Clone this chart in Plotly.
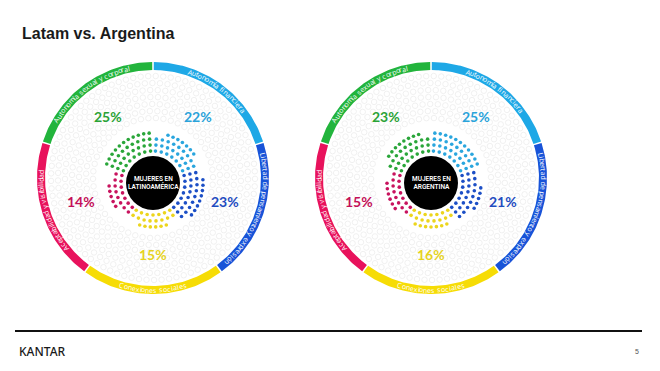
import math
import numpy as np
import plotly.graph_objects as go

# ---------------- data ----------------
categories = ["Autonomía financiera",
              "Libertad de pensamiento y expresión",
              "Conexiones sociales",
              "Aceptabilidad y visibilidad",
              "Autonomía sexual y corporal"]
latam_values = [22, 23, 15, 14, 25]
argentina_values = [25, 21, 16, 15, 23]
center_labels = ["MUJERES EN<br>LATINOAMÉRICA", "MUJERES EN<br>ARGENTINA"]
title_text = "Latam vs. Argentina"
footer_brand = "KANTAR"
page_number = "5"

# ---------------- style ----------------
ring_colors = ["#1ea8e6", "#1853d8", "#f6dc05", "#e8125c", "#22b43c"]
dot_colors = ["#2aa6de", "#1c4fc6", "#ecd51c", "#c8135e", "#2aa63a"]
pct_colors = ["#2aa3da", "#1f4cc0", "#e6d31e", "#c41058", "#2aa336"]
centers = [(153, 178), (431, 178)]
DOT_DY = 5
R_OUT, R_IN = 116, 108
R_TXT = (R_OUT + R_IN) / 2
SEG = 72.0
GAP = 0.8
BODY = 8  # page body margin of the browser

fig = go.Figure()


def pt(c, r, deg):
    a = math.radians(deg)
    return c[0] + r * math.cos(a), c[1] - r * math.sin(a)


def char_w(ch):
    if ch in "iljíI.,'":
        return 0.27
    if ch == " ":
        return 0.28
    if ch in "rtf":
        return 0.38
    if ch in "mw":
        return 0.85
    if ch.isupper():
        return 0.68
    return 0.57


annotations = []
shapes = []

for ci, (c, values, clabel) in enumerate(zip(centers, [latam_values, argentina_values], center_labels)):
    cd = (c[0], c[1] + DOT_DY)
    # faint background pattern
    px, py = [], []
    for r in np.arange(60, 104, 7.0):
        n = int(2 * math.pi * r / 7.5)
        for k in range(n):
            x, y = pt(c, r, 360.0 * k / n + (r % 14) * 2)
            px.append(x); py.append(y)
    fig.add_trace(go.Scatter(x=px, y=py, mode="markers",
                             marker=dict(symbol="circle-open", size=5.5,
                                         color="#eeeeee", line=dict(width=0.9)),
                             hoverinfo="skip"))

    for i, cat in enumerate(categories):
        a0 = 90 - SEG * i - GAP / 2
        a1 = 90 - SEG * (i + 1) + GAP / 2
        mid = 90 - SEG * i - SEG / 2
        # ring segment
        ang = np.linspace(a0, a1, 80)
        xs = [pt(c, R_OUT, a)[0] for a in ang] + [pt(c, R_IN, a)[0] for a in ang[::-1]]
        ys = [pt(c, R_OUT, a)[1] for a in ang] + [pt(c, R_IN, a)[1] for a in ang[::-1]]
        fig.add_trace(go.Scatter(x=xs, y=ys, mode="lines", fill="toself",
                                 fillcolor=ring_colors[i], line=dict(width=0),
                                 hoverinfo="skip"))
        # curved label
        fs = 7.0
        widths = [char_w(ch) * fs for ch in cat]
        L = sum(widths)
        span = math.degrees(L / R_TXT)
        cum = 0.0
        bottom = (i == 2)
        for ch, w in zip(cat, widths):
            off = math.degrees((cum + w / 2) / R_TXT)
            cum += w
            if ch == " ":
                continue
            if bottom:
                th = mid - span / 2 + off
                ta = -90 - th
            else:
                th = mid + span / 2 - off
                ta = 90 - th
            x, y = pt(c, R_TXT + 0.2, th)
            annotations.append(dict(x=x, y=y, xref="x", yref="y", text=ch,
                                    showarrow=False, textangle=ta,
                                    xanchor="center", yanchor="middle",
                                    font=dict(family="Open Sans", size=fs, color="white")))
        # dots
        v = values[i]
        ndots = int(round(v * 1.4))
        pad = 4
        s0, s1 = a0 - pad, a1 + pad
        dx, dy = [], []
        row = 0
        while ndots > 0:
            r = 32 + 6 * row
            arc = math.radians(s0 - s1) * r
            cap = int(arc // 5.4) + 1
            n = min(cap, ndots)
            if n == cap:
                angs = np.linspace(s0, s1, n)
            else:
                step = math.degrees(5.4 / r)
                w = step * (n - 1)
                m = (s0 + s1) / 2
                angs = np.linspace(m + w / 2, m - w / 2, n) if n > 1 else [m]
            for a in angs:
                x, y = pt(cd, r, a)
                dx.append(x); dy.append(y)
            ndots -= n
            row += 1
        fig.add_trace(go.Scatter(x=dx, y=dy, mode="markers",
                                 marker=dict(size=3.6, color=dot_colors[i], line=dict(width=0)),
                                 hoverinfo="skip"))
        # percentage label
        x, y = pt(c, 76, mid)
        annotations.append(dict(x=x, y=y, xref="x", yref="y", text=f"<b>{v}%</b>",
                                showarrow=False, xanchor="center", yanchor="middle",
                                font=dict(family="Lato", size=14, color=pct_colors[i])))

    # black centre circle
    shapes.append(dict(type="circle", xref="x", yref="y",
                       x0=cd[0] - 27, x1=cd[0] + 27, y0=cd[1] - 27, y1=cd[1] + 27,
                       fillcolor="black", line=dict(width=0)))
    annotations.append(dict(x=cd[0], y=cd[1], xref="x", yref="y", text=clabel,
                            showarrow=False, xanchor="center", yanchor="middle",
                            font=dict(family="Roboto", size=6.5, color="white", weight=600)))

# title
annotations.append(dict(x=20, y=33, xref="x", yref="y", text=f"<b>{title_text}</b>",
                        showarrow=False, xanchor="left", yanchor="middle",
                        font=dict(family="Liberation Sans", size=16, color="#1a1a1a")))
# footer
shapes.append(dict(type="line", xref="x", yref="y", x0=15, x1=642, y0=331, y1=331,
                   line=dict(color="#111111", width=2)))
annotations.append(dict(x=17, y=351, xref="x", yref="y", text=footer_brand,
                        showarrow=False, xanchor="left", yanchor="middle",
                        font=dict(family="Noto Sans", size=12, color="#1a1a1a", weight=500)))
annotations.append(dict(x=637, y=351, xref="x", yref="y", text=page_number,
                        showarrow=False, xanchor="center", yanchor="middle",
                        font=dict(family="Liberation Sans", size=7, color="#555555")))

fig.update_layout(
    width=660 - BODY, height=371 - BODY,
    margin=dict(l=0, r=0, t=0, b=0),
    paper_bgcolor="white", plot_bgcolor="white",
    showlegend=False, hovermode=False,
    xaxis=dict(range=[BODY, 660], visible=False, fixedrange=True),
    yaxis=dict(range=[371, BODY], visible=False, fixedrange=True),
    annotations=annotations, shapes=shapes,
)
fig.write_html("out.html")
